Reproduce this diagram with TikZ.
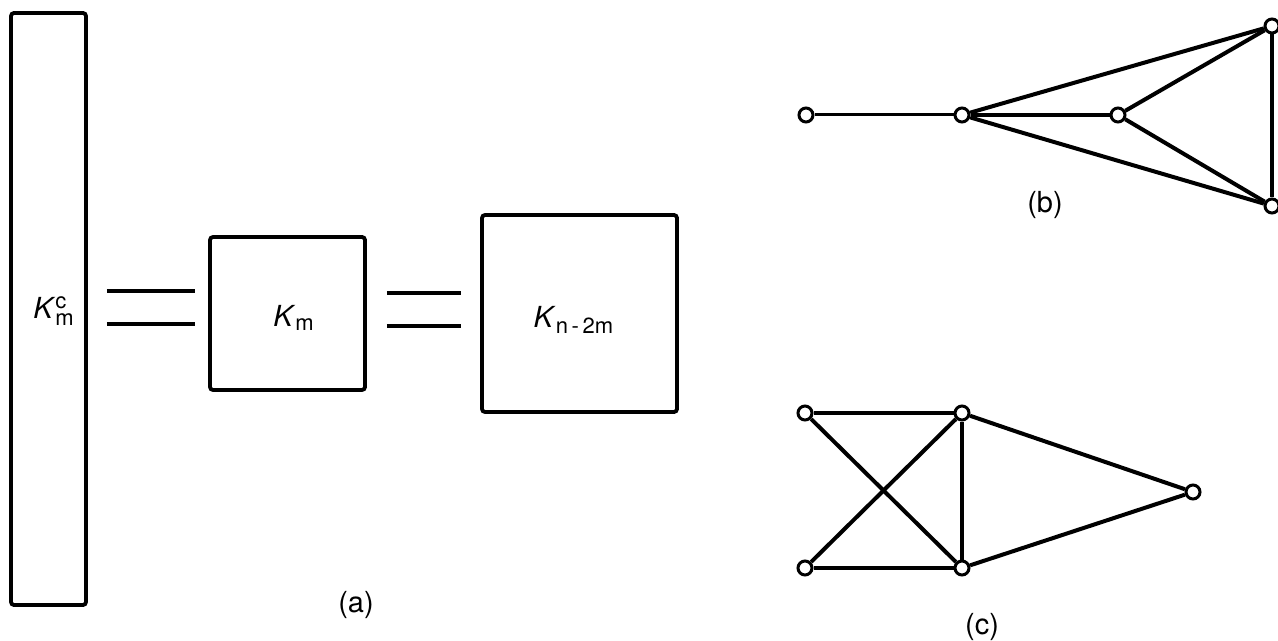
\documentclass[tikz,border=0pt]{standalone}
\usepackage{fontspec}
\setmainfont{TeX Gyre Heros}
\usepackage{amsmath}
\usetikzlibrary{positioning}
\newcommand{\idx}[1]{\mbox{\fontsize{11}{12}\selectfont #1}}

\begin{document}
\begin{tikzpicture}[
    x=0.5pt, y=-0.5pt,
    box/.style={draw, line width=1.9pt, rounded corners=1.5pt, inner sep=0pt},
    lbl/.style={inner sep=0pt, font=\fontsize{14.5}{16}\selectfont},
    vtx/.style={circle, draw, fill=white, line width=1.5pt, minimum size=7pt, inner sep=0pt},
    grline/.style={line width=2pt},
    link/.style={line width=1.9pt}
]
\useasboundingbox (0,0) rectangle (1278,641);

% (a) the three blocks
\node[box, minimum width=37.5pt, minimum height=296pt] (kmc) at (48.5,309) {};
\node[box, minimum width=77.5pt, minimum height=76.5pt] (km) at (287.5,313.5) {};
\node[box, minimum width=97.5pt, minimum height=98.5pt] (kn) at (579.5,313.5) {};
\node[lbl] (kmclbl) at (54,311) {\textit{K}$^{\idx{c}}_{\idx{m}}$};
\node[lbl] (kmlbl) at (294,318) {\textit{K}$_{\idx{m}}$};
\node[lbl] (knlbl) at (574,320) {\textit{K}$_{\idx{n\,-\,2m}}$};
\draw[link, shorten <=9.5pt, shorten >=6.5pt] (kmc.east |- 0,291) -- (km.west |- 0,291);
\draw[link, shorten <=9.5pt, shorten >=6.5pt] (kmc.east |- 0,324) -- (km.west |- 0,324);
\draw[link, shorten <=10pt, shorten >=9.5pt] (km.east |- 0,293) -- (kn.west |- 0,293);
\draw[link, shorten <=10pt, shorten >=9.5pt] (km.east |- 0,326) -- (kn.west |- 0,326);
\node[lbl] (capa) at (356,605) {(a)};

% (b)
\node[vtx] (b1) at (806,115) {};
\node[vtx] (b2) at (962,115) {};
\node[vtx] (b3) at (1118,115) {};
\node[vtx] (b4) at (1272,26) {};
\node[vtx] (b5) at (1272,206) {};
\draw[grline, line width=1.5pt] (b1) -- (b2);
\draw[grline] (b2) -- (b3);
\draw[grline] (b2) -- (b4);
\draw[grline] (b2) -- (b5);
\draw[grline] (b3) -- (b4);
\draw[grline] (b3) -- (b5);
\draw[grline] (b4) -- (b5);
\node[lbl] (capb) at (1045,205) {(b)};

% (c)
\node[vtx] (c1) at (805,413) {};
\node[vtx] (c2) at (962,413) {};
\node[vtx] (c3) at (805,568) {};
\node[vtx] (c4) at (962,568) {};
\node[vtx] (c5) at (1193,492) {};
\draw[grline] (c1) -- (c2);
\draw[grline] (c3) -- (c4);
\draw[grline] (c1) -- (c4);
\draw[grline] (c3) -- (c2);
\draw[grline] (c2) -- (c4);
\draw[grline] (c2) -- (c5);
\draw[grline] (c4) -- (c5);
\node[lbl] (capc) at (982,627) {(c)};
\end{tikzpicture}
\end{document}
